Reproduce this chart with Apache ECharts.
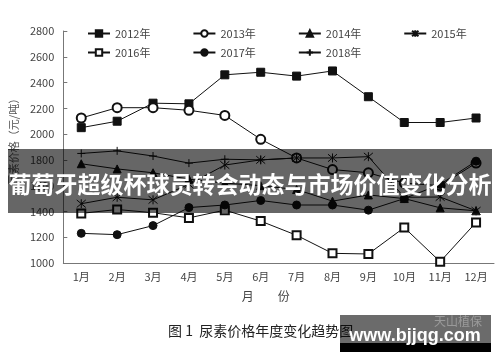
<!DOCTYPE html>
<html><head><meta charset="utf-8">
<script src="https://cdn.jsdelivr.net/npm/echarts@6/dist/echarts.min.js"></script>
<style>html,body{margin:0;padding:0;background:#fff}#c{width:500px;height:362px}</style>
</head><body><div id="c"></div>
<script>
const months = ['1月','2月','3月','4月','5月','6月','7月','8月','9月','10月','11月','12月'];
const seriesNames = ['2012年','2013年','2014年','2015年','2016年','2017年','2018年'];
const y2012 = [2050,2100,2240,2235,2460,2480,2450,2490,2290,2090,2090,2125];
const y2013 = [2125,2205,2205,2185,2145,1960,1815,1725,1700,1620,1600,1775];
const y2014 = [1770,1730,1700,1650,1620,1600,1570,1480,1528,1500,1428,1405];
const y2015 = [1460,1510,1490,1610,1760,1800,1815,1815,1825,1510,1512,1405];
const y2016 = [1385,1415,1390,1350,1410,1325,1215,1075,1070,1275,1010,1315];
const y2017 = [1230,1220,1290,1430,1450,1485,1450,1450,1410,1500,1610,1790];
const y2018 = [1850,1870,1830,1775,1805,1800,1815,null,null,null,null,null];
const yTicks = {min:1000, max:2800, interval:200};
const title = '葡萄牙超级杯球员转会动态与市场价值变化分析';
const caption = '图 1  尿素价格年度变化趋势图';
const xName = '月　　份';
const yName = '尿素价格（元/吨）';

const asterisk = 'path://M0,0L10,10M10,0L0,10M5,-1L5,11';
const plus = 'path://M0,5L10,5M5,0L5,10';
const dataArr = [y2012,y2013,y2014,y2015,y2016,y2017,y2018];
const symbols = ['rect','emptyCircle','triangle',asterisk,'emptyRect','circle',plus];
const sizes = [8,9,8,9,8,8,8];
const font = '"Noto Sans CJK SC", "Liberation Sans", sans-serif';

const series = seriesNames.map((n,i)=>({
  name:n, type:'line', data:dataArr[i], symbol:symbols[i], symbolSize:sizes[i],
  color:'#111',
  lineStyle:{color:'#111', width:1},
  itemStyle:{color:'#111', borderColor:'#111', borderWidth:1},
  emphasis:{disabled:true}, connectNulls:false
}));

const chart = echarts.init(document.getElementById('c'));
chart.setOption({
  animation:false,
  backgroundColor:'#fff',
  textStyle:{fontFamily:font},
  grid:{left:59, right:6, top:31, bottom:99},
  legend:[
    {data:seriesNames.slice(0,4), left:82, top:23, itemWidth:22, itemHeight:8, itemGap:42,
     textStyle:{fontSize:11, color:'#444', fontFamily:font}},
    {data:seriesNames.slice(4), left:82, top:42, itemWidth:22, itemHeight:8, itemGap:42,
     textStyle:{fontSize:11, color:'#444', fontFamily:font}}
  ],
  xAxis:{type:'category', data:months, boundaryGap:true,
    axisLine:{lineStyle:{color:'#777'}},
    axisTick:{inside:true, length:4, lineStyle:{color:'#777'}},
    axisLabel:{fontSize:11, color:'#444', margin:8},
    name:xName, nameLocation:'middle', nameGap:27,
    nameTextStyle:{fontSize:12, color:'#444', padding:[0,26,0,0]}
  },
  yAxis:{type:'value', min:yTicks.min, max:yTicks.max, interval:yTicks.interval,
    axisLine:{show:true, lineStyle:{color:'#777'}},
    axisTick:{show:true, inside:true, length:4, lineStyle:{color:'#777'}},
    splitLine:{show:false},
    axisLabel:{fontSize:11, color:'#444', margin:9, formatter:(v)=>String(v)},
    name:yName, nameLocation:'middle', nameRotate:90, nameGap:37,
    nameTextStyle:{fontSize:11, color:'#555', padding:[0,0,0,16]}
  },
  series:series,
  graphic:[
    {type:'rect', z:100, shape:{x:8,y:149,width:484,height:64}, style:{fill:'rgba(0,0,0,0.6)'}},
    {type:'text', z:101, x:250, y:184, style:{text:title, fill:'#fff', fontSize:23, fontWeight:'bold', fontFamily:'"Noto Sans CJK SC", sans-serif', align:'center', verticalAlign:'middle'}},
    {type:'text', z:99, x:168, y:331, style:{text:caption, fill:'#222', fontSize:14, fontFamily:'"Noto Sans CJK SC", sans-serif', align:'left', verticalAlign:'middle'}},
    {type:'rect', z:100, shape:{x:340,y:315,width:151,height:28}, style:{fill:'rgba(0,0,0,0.58)'}},
    {type:'rect', z:100, shape:{x:340,y:343,width:151,height:9}, style:{fill:'#000'}},
    {type:'text', z:101, x:458, y:321, style:{text:'天山植保', fill:'#9a9a9a', fontSize:12, fontFamily:'"Noto Sans CJK SC", sans-serif', align:'center', verticalAlign:'middle'}},
    {type:'text', z:101, x:415, y:336, style:{text:'www.bjjqg.com', fill:'#fff', fontSize:18, fontWeight:'bold', fontFamily:'"Liberation Sans", sans-serif', align:'center', verticalAlign:'middle'}}
  ]
});
</script>
</body></html>
